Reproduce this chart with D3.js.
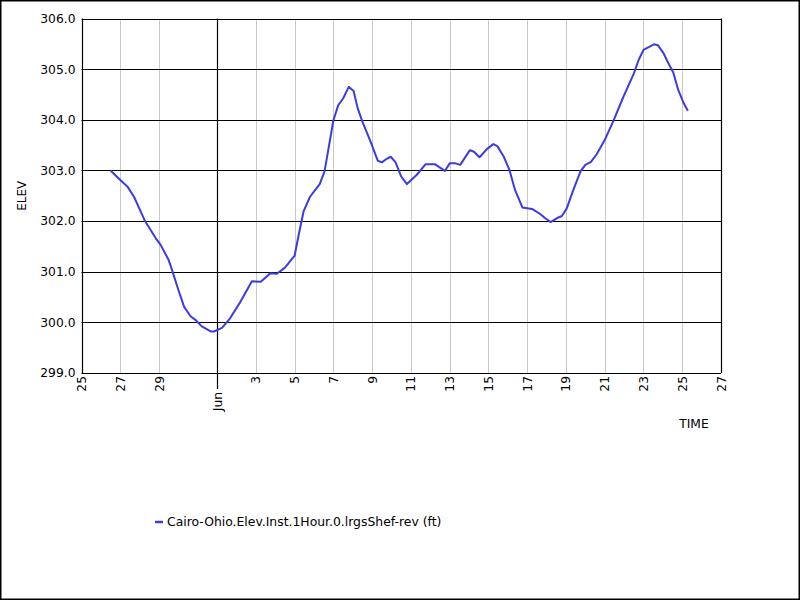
<!DOCTYPE html>
<html>
<head>
<meta charset="utf-8">
<script src="https://cdn.jsdelivr.net/npm/d3@7"></script>
<style>
  html, body { margin: 0; padding: 0; background: #fff; }
  svg { display: block; font-family: "DejaVu Sans", sans-serif; }
</style>
</head>
<body>
<svg id="chart" width="800" height="600"></svg>
<script>
// hourly gauge readings, sampled from the plot
const times = [
  '2019-05-26T12:00', '2019-05-27T00:00', '2019-05-27T09:00', '2019-05-27T17:00',
  '2019-05-28T07:00', '2019-05-28T20:00', '2019-05-29T02:00', '2019-05-29T12:00',
  '2019-05-29T16:00', '2019-05-30T00:00', '2019-05-30T07:00', '2019-05-30T15:00',
  '2019-05-30T21:00', '2019-05-31T05:00', '2019-05-31T16:00', '2019-05-31T20:00',
  '2019-06-01T06:00', '2019-06-01T16:00', '2019-06-02T05:00', '2019-06-02T19:00',
  '2019-06-03T06:00', '2019-06-03T18:00', '2019-06-04T02:00', '2019-06-04T12:00',
  '2019-06-05T00:00', '2019-06-05T05:00', '2019-06-05T11:00', '2019-06-05T19:00',
  '2019-06-06T07:00', '2019-06-06T13:00', '2019-06-06T18:00', '2019-06-07T00:00',
  '2019-06-07T06:00', '2019-06-07T12:00', '2019-06-07T19:00', '2019-06-08T01:00',
  '2019-06-08T06:00', '2019-06-08T12:00', '2019-06-08T22:00', '2019-06-09T07:00',
  '2019-06-09T12:00', '2019-06-09T18:00', '2019-06-09T23:00', '2019-06-10T05:00',
  '2019-06-10T12:00', '2019-06-10T19:00', '2019-06-11T07:00', '2019-06-11T18:00',
  '2019-06-12T06:00', '2019-06-12T18:00', '2019-06-13T00:00', '2019-06-13T07:00',
  '2019-06-13T13:00', '2019-06-14T01:00', '2019-06-14T06:00', '2019-06-14T13:00',
  '2019-06-14T22:00', '2019-06-15T06:00', '2019-06-15T11:00', '2019-06-15T19:00',
  '2019-06-16T02:00', '2019-06-16T09:00', '2019-06-16T18:00', '2019-06-17T06:00',
  '2019-06-17T16:00', '2019-06-17T22:00', '2019-06-18T05:00', '2019-06-18T13:00',
  '2019-06-18T19:00', '2019-06-19T01:00', '2019-06-19T09:00', '2019-06-19T18:00',
  '2019-06-20T00:00', '2019-06-20T07:00', '2019-06-20T14:00', '2019-06-21T00:00',
  '2019-06-21T11:00', '2019-06-21T23:00', '2019-06-22T12:00', '2019-06-22T18:00',
  '2019-06-23T00:00', '2019-06-23T07:00', '2019-06-23T13:00', '2019-06-23T18:00',
  '2019-06-24T01:00', '2019-06-24T07:00', '2019-06-24T13:00', '2019-06-24T19:00',
  '2019-06-25T02:00', '2019-06-25T07:00'
];
const elev = [
  303.00, 302.81, 302.68, 302.48,
  301.99, 301.66, 301.53, 301.23,
  301.04, 300.64, 300.31, 300.12,
  300.05, 299.92, 299.82, 299.82,
  299.89, 300.08, 300.41, 300.81,
  300.80, 300.97, 300.96, 301.08,
  301.32, 301.73, 302.19, 302.48,
  302.73, 302.98, 303.44, 303.99,
  304.29, 304.42, 304.65, 304.57,
  304.23, 303.96, 303.57, 303.19,
  303.16, 303.23, 303.27, 303.16,
  302.88, 302.73, 302.91, 303.12,
  303.12, 302.99, 303.14, 303.14,
  303.11, 303.40, 303.37, 303.26,
  303.42, 303.52, 303.48, 303.27,
  303.01, 302.61, 302.27, 302.24,
  302.14, 302.06, 301.98, 302.06,
  302.10, 302.25, 302.61, 302.98,
  303.11, 303.17, 303.32, 303.60,
  303.99, 304.45, 304.91, 305.18,
  305.38, 305.44, 305.49, 305.47,
  305.31, 305.11, 304.93, 304.59,
  304.32, 304.18
];

const xDomain = ['2019-05-25T00:00', '2019-06-27T00:00'];
const yDomain = [299, 306];
const yTicks = [299, 300, 301, 302, 303, 304, 305, 306];
const xTicks = [
  '2019-05-25', '2019-05-27', '2019-05-29', '2019-06-01', '2019-06-03',
  '2019-06-05', '2019-06-07', '2019-06-09', '2019-06-11', '2019-06-13',
  '2019-06-15', '2019-06-17', '2019-06-19', '2019-06-21', '2019-06-23',
  '2019-06-25', '2019-06-27'
];
const monthTick = '2019-06-01';

const seriesName = 'Cairo-Ohio.Elev.Inst.1Hour.0.lrgsShef-rev (ft)';
const lineColor = '#3c3ce0';

const parse = d3.utcParse('%Y-%m-%dT%H:%M');
const parseDay = d3.utcParse('%Y-%m-%d');

const margin = { top: 18.5, left: 81.5, right: 79, bottom: 227 };
const width = 800, height = 600;

const svg = d3.select('#chart');

// outer frame
svg.append('rect')
  .attr('x', 0.75).attr('y', 0.75)
  .attr('width', width - 1.5).attr('height', height - 1.5)
  .attr('fill', '#fff')
  .attr('stroke', '#000')
  .attr('stroke-width', 1.5);

const x = d3.scaleUtc(xDomain.map(parse), [margin.left, width - margin.right]);
const y = d3.scaleLinear(yDomain, [height - margin.bottom, margin.top]);

const data = times.map((t, i) => ({ t: parse(t), v: elev[i] }));
const tickDates = xTicks.map(parseDay);
const monthDate = parseDay(monthTick);
const isMonth = d => +d === +monthDate;

// vertical grid (light grey every tick, black at the month)
svg.append('g')
  .selectAll('line')
  .data(tickDates.filter(d => !isMonth(d)))
  .join('line')
    .attr('x1', d => Math.round(x(d)) + 0.5)
    .attr('x2', d => Math.round(x(d)) + 0.5)
    .attr('y1', y(yDomain[1]))
    .attr('y2', y(yDomain[0]))
    .attr('stroke', '#c8c8c8')
    .attr('stroke-width', 1);

// horizontal grid
svg.append('g')
  .selectAll('line')
  .data(yTicks)
  .join('line')
    .attr('x1', x.range()[0])
    .attr('x2', x.range()[1])
    .attr('y1', d => Math.round(y(d)) + 0.5)
    .attr('y2', d => Math.round(y(d)) + 0.5)
    .attr('stroke', '#000')
    .attr('stroke-width', 1.2);

// month line, runs below the axis as a long tick
svg.append('line')
  .attr('x1', Math.round(x(monthDate)) + 0.5)
  .attr('x2', Math.round(x(monthDate)) + 0.5)
  .attr('y1', y(yDomain[1]))
  .attr('y2', y(yDomain[0]) + 16)
  .attr('stroke', '#000')
  .attr('stroke-width', 1.2);

// plot frame left/right
svg.append('g')
  .selectAll('line')
  .data(x.range())
  .join('line')
    .attr('x1', d => Math.round(d) + 0.5)
    .attr('x2', d => Math.round(d) + 0.5)
    .attr('y1', y(yDomain[1]))
    .attr('y2', y(yDomain[0]))
    .attr('stroke', '#000')
    .attr('stroke-width', 1.2);

// y tick labels
svg.append('g')
  .selectAll('text')
  .data(yTicks)
  .join('text')
    .attr('x', x.range()[0] - 6)
    .attr('y', d => y(d))
    .attr('dy', '0.36em')
    .attr('text-anchor', 'end')
    .attr('font-size', 12.3)
    .text(d3.format('.1f'));

// x tick labels, rotated
const dayFmt = d3.utcFormat('%-d');
const monFmt = d3.utcFormat('%b');
svg.append('g')
  .selectAll('text')
  .data(tickDates)
  .join('text')
    .attr('transform', d => `translate(${x(d) + 4.5},${y(yDomain[0]) + (isMonth(d) ? 19 : 3)}) rotate(-90)`)
    .attr('text-anchor', 'end')
    .attr('font-size', 12.3)
    .text(d => isMonth(d) ? monFmt(d) : dayFmt(d));

// series
const line = d3.line()
  .x(d => x(d.t))
  .y(d => y(d.v));

svg.append('path')
  .datum(data)
  .attr('d', line)
  .attr('fill', 'none')
  .attr('stroke', lineColor)
  .attr('stroke-width', 2)
  .attr('stroke-linejoin', 'round');

// axis titles
svg.append('text')
  .attr('transform', `translate(26,${(y.range()[0] + y.range()[1]) / 2}) rotate(-90)`)
  .attr('text-anchor', 'middle')
  .attr('font-size', 12)
  .text('ELEV');

svg.append('text')
  .attr('x', 694)
  .attr('y', 428)
  .attr('text-anchor', 'middle')
  .attr('font-size', 12.3)
  .text('TIME');

// legend
const legend = svg.append('g').attr('transform', 'translate(155,522)');
legend.append('line')
  .attr('x1', 0).attr('x2', 8)
  .attr('y1', 0).attr('y2', 0)
  .attr('stroke', lineColor)
  .attr('stroke-width', 2.5);
legend.append('text')
  .attr('x', 12)
  .attr('y', 0)
  .attr('dy', '0.36em')
  .attr('font-size', 12.4)
  .text(seriesName);
</script>
</body>
</html>
